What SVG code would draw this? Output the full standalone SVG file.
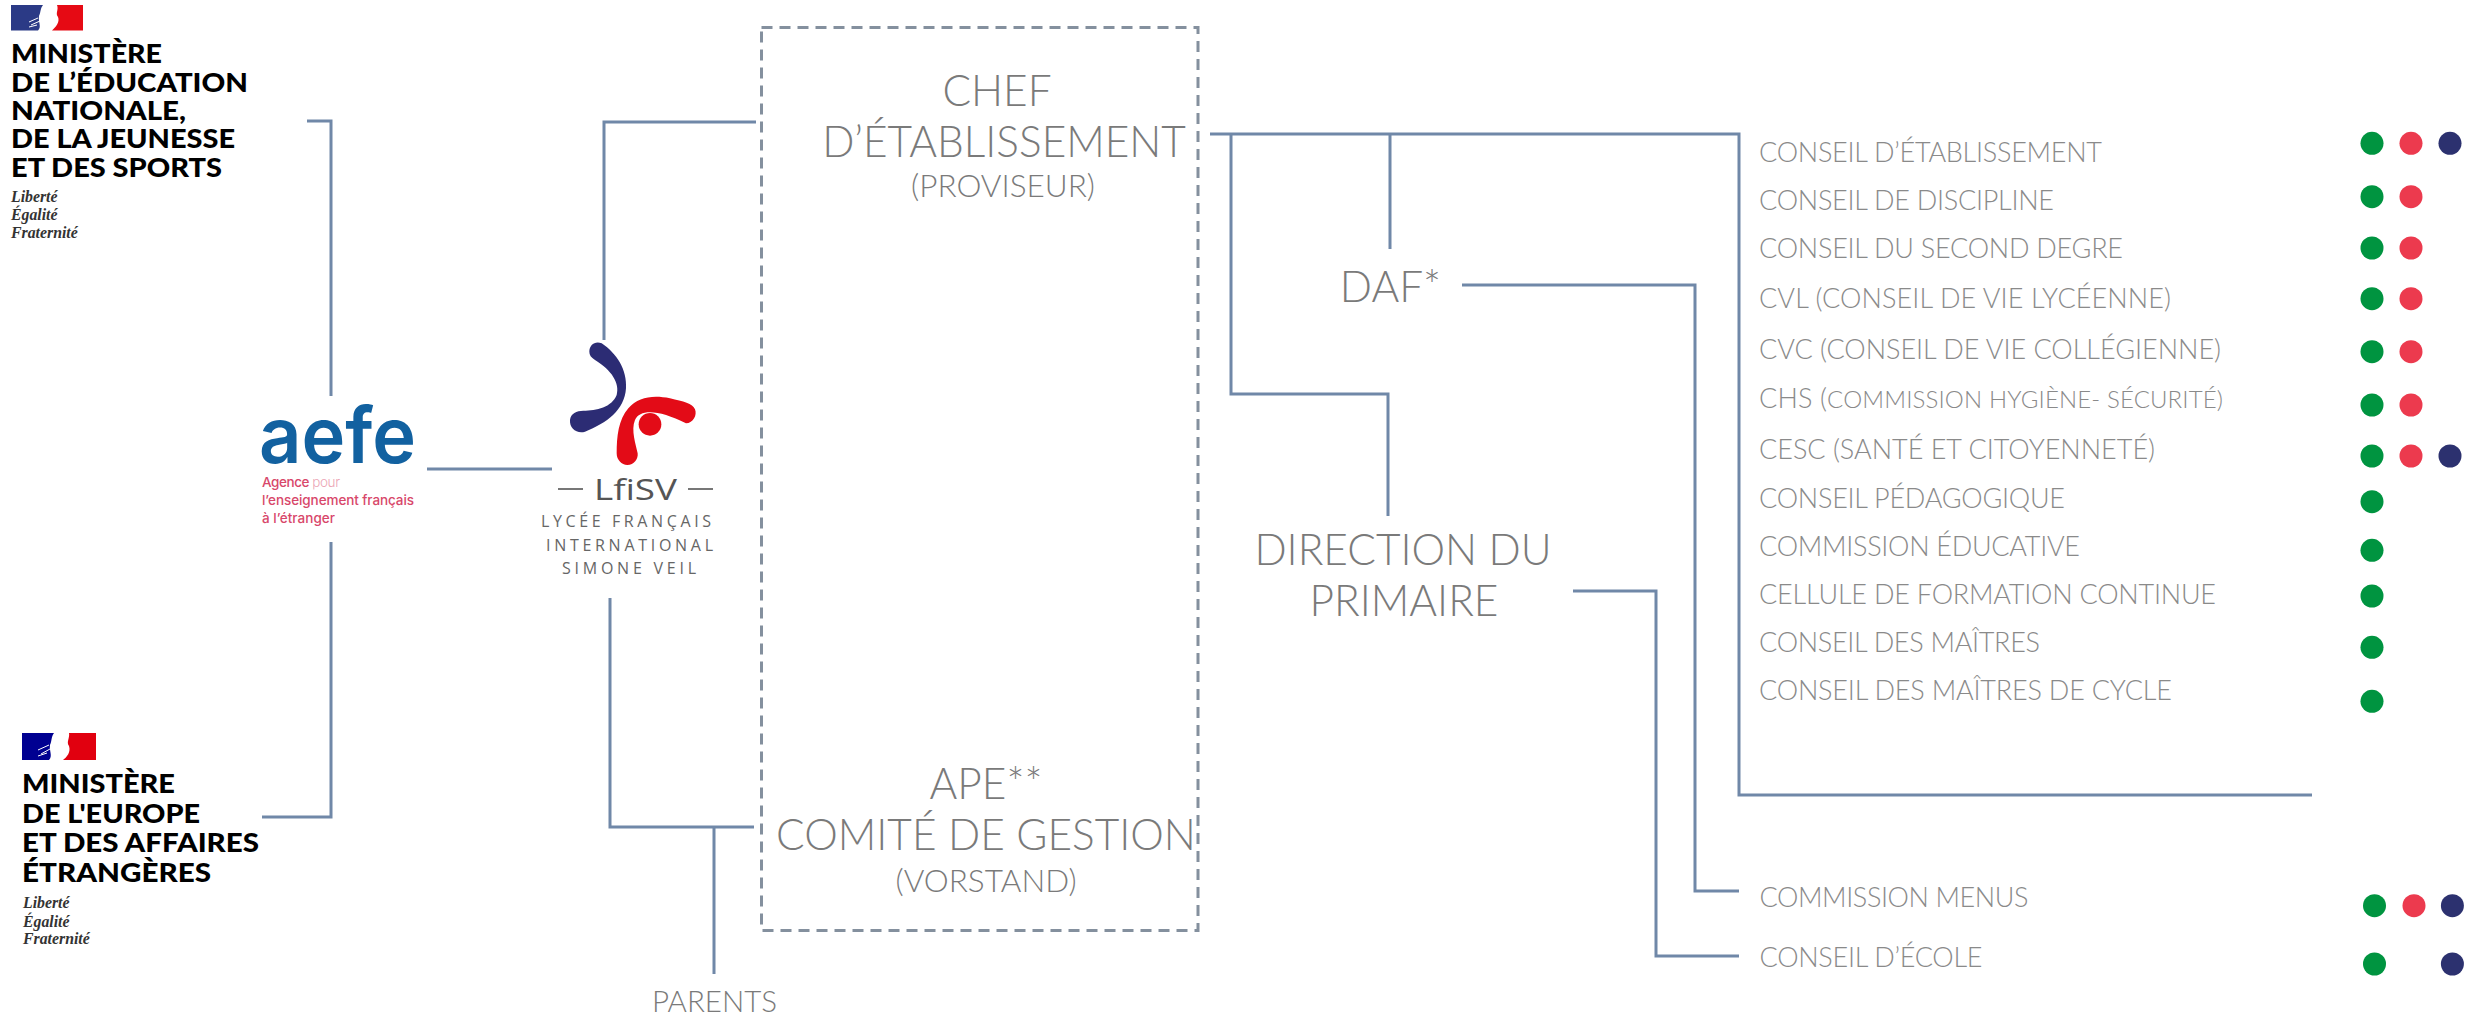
<svg xmlns="http://www.w3.org/2000/svg" width="2466" height="1016" viewBox="0 0 2466 1016">
<style>
text{font-family:Lato,"Open Sans",sans-serif;fill:#7a7a7a;font-weight:300}
.big{font-size:42.4px;text-anchor:middle}
.sub{font-size:31.5px;text-anchor:middle}
.it{font-size:27px;fill:#8a8a8a}
.sm{font-size:24px}
.c{fill:none;stroke:#7088a8;stroke-width:3}
.g{fill:#009440}.r{fill:#ec3a4e}.b{fill:#2c316f}
.m{font-family:Lato,sans-serif;font-weight:900;fill:#000;font-size:26px}
.l{font-family:"Liberation Serif",serif;font-style:italic;font-weight:700;fill:#333;font-size:15.8px}
.o{font-family:"Open Sans",sans-serif;font-weight:400;fill:#666;font-size:16px}
.p{font-family:Inter,sans-serif;font-weight:500;fill:#d8476a;font-size:13.5px}
.h{fill:none;stroke:#fff;stroke-width:1}
</style>
<rect width="2466" height="1016" fill="#fff"/>
<g id="connectors">
<path class="c" d="M307 121H331V396M427 469H552M331 542V817H262M756 122H604V340M610 598V827H754M714 827V974M1210 134H1739V795H2312M1390 134V249M1231 134V394H1388V516M1462 285H1695V891H1739M1573 591H1656V956H1739"/>
</g>
<g id="lycee-box"><rect x="761.500" y="27.500" width="436.500" height="903" fill="none" stroke="#84909e" stroke-width="3" stroke-dasharray="11 7"/></g>
<g id="chef"><text class="big" x="997" y="106">CHEF</text><text class="big" x="1004" y="157">D’ÉTABLISSEMENT</text><text class="sub" x="1003" y="197">(PROVISEUR)</text></g>
<g id="ape"><text class="big" x="986" y="799">APE**</text><text class="big" x="986" y="850">COMITÉ DE GESTION</text><text class="sub" x="986" y="892">(VORSTAND)</text></g>
<g id="daf"><text class="big" x="1390.500" y="301.700">DAF*</text></g>
<g id="primaire"><text class="big" x="1403" y="564.500">DIRECTION DU</text><text class="big" x="1404" y="616">PRIMAIRE</text></g>
<g id="parents"><text class="sub" x="714.500" y="1012" style="font-size:29.500px">PARENTS</text></g>
<g id="logo-men">
<path d="M11 5H43C40 9 41 12 39 16C38 22 42 27 38 30.500H11Z" fill="#2b3a86"/><path d="M57 5H83V30.500H52C56 27 60 22 58 17C55 13 59 10 57 5Z" fill="#e60a14"/>
<path class="h" d="M29 22L38 18M31 25L40 21M29 27L37 25"/>
<text class="m" x="11" y="62.700" textLength="151" lengthAdjust="spacingAndGlyphs">MINISTÈRE</text><text class="m" x="11" y="91.700" textLength="237" lengthAdjust="spacingAndGlyphs">DE L’ÉDUCATION</text><text class="m" x="11" y="120" textLength="175" lengthAdjust="spacingAndGlyphs">NATIONALE,</text><text class="m" x="11" y="148.300" textLength="224" lengthAdjust="spacingAndGlyphs">DE LA JEUNESSE</text><text class="m" x="11" y="176.700" textLength="211" lengthAdjust="spacingAndGlyphs">ET DES SPORTS</text>
<text class="l" x="11" y="202">Liberté</text><text class="l" x="11" y="220">Égalité</text><text class="l" x="11" y="238">Fraternité</text>
</g>
<g id="logo-meae">
<path d="M22 733H54C51 737 52 741 50 745C49 751 53 756 49 760H22Z" fill="#000091"/><path d="M69 733H96V760H63C67 757 71 752 69 746C66 742 70 738 69 733Z" fill="#e1000f"/>
<path class="h" d="M38 750L49 745M41 754L50 749M38 756L47 753"/>
<text class="m" x="22" y="793" textLength="153" lengthAdjust="spacingAndGlyphs">MINISTÈRE</text><text class="m" x="22" y="822.700" textLength="178" lengthAdjust="spacingAndGlyphs">DE L'EUROPE</text><text class="m" x="22" y="852.300" textLength="237" lengthAdjust="spacingAndGlyphs">ET DES AFFAIRES</text><text class="m" x="22" y="881.700" textLength="189" lengthAdjust="spacingAndGlyphs">ÉTRANGÈRES</text>
<text class="l" x="23" y="908">Liberté</text><text class="l" x="23" y="926.700">Égalité</text><text class="l" x="23" y="944">Fraternité</text>
</g>
<g id="logo-aefe">
<text x="259" y="463" textLength="157" lengthAdjust="spacingAndGlyphs" style="font-family:Inter,sans-serif;font-weight:600;font-size:77px;fill:#1261a0">aefe</text>
<text class="p" x="262" y="487" textLength="78">Agence <tspan style="fill:#eca6b5;font-weight:300">pour</tspan></text>
<text class="p" x="262" y="505" textLength="152">l’enseignement français</text>
<text class="p" x="262" y="523" textLength="73">à l’étranger</text>
</g>
<g id="logo-lfisv">
<g transform="translate(220 320) scale(.33333)">
<path fill="#2c2c74" d="M1108 95C1108 75 1125 62 1145 70C1190 100 1222 150 1218 205C1214 270 1160 310 1095 335C1070 342 1048 325 1050 300C1052 280 1070 272 1090 272C1130 272 1175 262 1190 225C1200 190 1175 150 1125 120C1113 112 1108 105 1108 95Z"/>
<path fill="#e30b17" d="M1398 310C1420 310 1432 285 1425 268C1418 250 1390 245 1350 235C1300 225 1255 230 1225 265C1195 300 1190 350 1190 400C1190 420 1205 435 1222 435C1242 435 1255 418 1253 400C1248 375 1232 330 1245 300C1260 265 1320 270 1398 310Z"/>
<circle cx="1290" cy="313" r="34" fill="#e30b17"/>
</g>
<path d="M558 489H583M688 489H713" stroke="#777" stroke-width="2" fill="none"/>
<text x="594" y="500" textLength="83" lengthAdjust="spacingAndGlyphs" style="font-family:'Open Sans',sans-serif;font-weight:400;fill:#555;font-size:30px">LfiSV</text>
<text class="o" x="541" y="527" textLength="170">LYCÉE FRANÇAIS</text>
<text class="o" x="546" y="551" textLength="167">INTERNATIONAL</text>
<text class="o" x="562" y="574" textLength="134">SIMONE VEIL</text>
</g>
<g id="councils">
<text class="it" x="1759" y="162" textLength="343">CONSEIL D’ÉTABLISSEMENT</text>
<text class="it" x="1759" y="209.800" textLength="295">CONSEIL DE DISCIPLINE</text>
<text class="it" x="1759" y="258" textLength="364">CONSEIL DU SECOND DEGRE</text>
<text class="it" x="1759" y="307.500" textLength="412">CVL (CONSEIL DE VIE LYCÉENNE)</text>
<text class="it" x="1759" y="358.500" textLength="462">CVC (CONSEIL DE VIE COLLÉGIENNE)</text>
<text class="it" x="1759" y="408" textLength="464">CHS (<tspan class="sm">COMMISSION HYGIÈNE- SÉCURITÉ)</tspan></text>
<text class="it" x="1759" y="458.500" textLength="396">CESC (SANTÉ ET CITOYENNETÉ)</text>
<text class="it" x="1759" y="507.700" textLength="306">CONSEIL PÉDAGOGIQUE</text>
<text class="it" x="1759" y="555.800" textLength="321">COMMISSION ÉDUCATIVE</text>
<text class="it" x="1759" y="603.500" textLength="457">CELLULE DE FORMATION CONTINUE</text>
<text class="it" x="1759" y="651.500" textLength="281">CONSEIL DES MAÎTRES</text>
<text class="it" x="1759" y="699.500" textLength="413">CONSEIL DES MAÎTRES DE CYCLE</text>
<text class="it" x="1759.500" y="906.500" textLength="269">COMMISSION MENUS</text>
<text class="it" x="1759.500" y="966.500" textLength="223">CONSEIL D’ÉCOLE</text>
</g>
<g id="dots">
<circle class="g" cx="2372" cy="143.300" r="11.500"/><circle class="r" cx="2411" cy="143.300" r="11.500"/><circle class="b" cx="2450" cy="143.300" r="11.500"/>
<circle class="g" cx="2372" cy="196.700" r="11.500"/><circle class="r" cx="2411" cy="196.700" r="11.500"/>
<circle class="g" cx="2372" cy="248" r="11.500"/><circle class="r" cx="2411" cy="248" r="11.500"/>
<circle class="g" cx="2372" cy="298.700" r="11.500"/><circle class="r" cx="2411" cy="298.700" r="11.500"/>
<circle class="g" cx="2372" cy="351.700" r="11.500"/><circle class="r" cx="2411" cy="351.700" r="11.500"/>
<circle class="g" cx="2372" cy="405" r="11.500"/><circle class="r" cx="2411" cy="405" r="11.500"/>
<circle class="g" cx="2372" cy="456" r="11.500"/><circle class="r" cx="2411" cy="456" r="11.500"/><circle class="b" cx="2450" cy="456" r="11.500"/>
<circle class="g" cx="2372" cy="501.700" r="11.500"/>
<circle class="g" cx="2372" cy="550.300" r="11.500"/>
<circle class="g" cx="2372" cy="596" r="11.500"/>
<circle class="g" cx="2372" cy="647.300" r="11.500"/>
<circle class="g" cx="2372" cy="701.300" r="11.500"/>
<circle class="g" cx="2374.500" cy="905.700" r="11.500"/><circle class="r" cx="2414" cy="905.700" r="11.500"/><circle class="b" cx="2452.400" cy="905.700" r="11.500"/>
<circle class="g" cx="2374.500" cy="964" r="11.500"/><circle class="b" cx="2452.400" cy="964" r="11.500"/>
</g>
</svg>
